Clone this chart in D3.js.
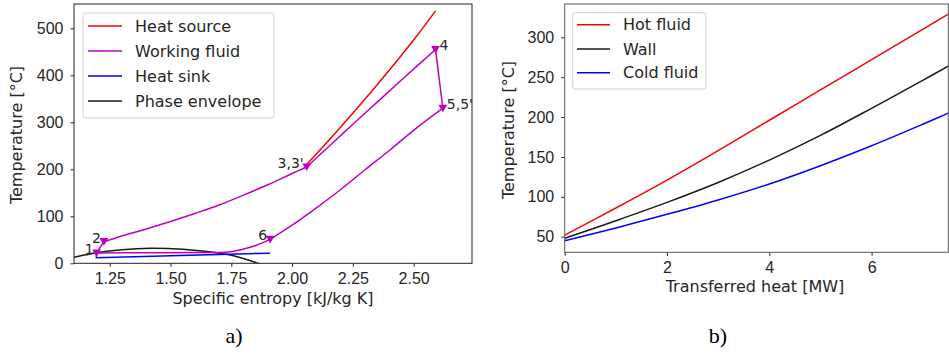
<!DOCTYPE html>
<html>
<head>
<meta charset="utf-8">
<script src="https://cdn.jsdelivr.net/npm/d3@7"></script>
<style>
  body { margin: 0; background: #fff; }
  svg { display: block; font-family: "DejaVu Sans", sans-serif; }
  .axis text { font-size: 16px; fill: #262626; }
  .axis path, .axis line { stroke: #262626; }
</style>
</head>
<body>
<svg id="chart" width="949" height="353"></svg>
<script>
// ---- panel a) T-s diagram ----
const sourceS = [2.06, 2.2, 2.35, 2.5, 2.59];
const sourceT = [210, 290, 380, 475, 537];

// working fluid cycle, one array per process
const wfPumpS = [1.196, 1.226];
const wfPumpT = [22, 46];
const wfHeatS = [1.226, 1.3, 1.4, 1.5, 1.6, 1.7, 1.8, 1.9, 2.0, 2.06];
const wfHeatT = [46, 58, 73, 89, 106, 124, 145, 167, 191, 205];
const wfSuperS = [2.06, 2.15, 2.25, 2.35, 2.45, 2.59];
const wfSuperT = [205, 248, 296, 343, 390, 455];
const wfExpS = [2.59, 2.62];
const wfExpT = [455, 330];
const wfCoolS = [2.62, 2.5, 2.4, 2.3, 2.2, 2.1, 2.0, 1.91];
const wfCoolT = [330, 283, 240, 199, 157, 118, 81, 51];
const wfCondS = [1.91, 1.85, 1.79, 1.74, 1.6, 1.4, 1.196];
const wfCondT = [51, 38, 29, 24, 23, 22.5, 22];

const sinkS = [1.195, 1.195, 1.909];
const sinkT = [17, 12, 21.5];

const envS = [1.103, 1.15, 1.2, 1.3, 1.42, 1.55, 1.65, 1.75, 1.82, 1.86, 1.9];
const envT = [13, 18, 23, 29, 32, 30, 25, 17, 7, 0, -7];

const stateS = [1.196, 1.226, 2.06, 2.59, 2.62, 1.91];
const stateT = [22, 46, 205, 455, 330, 51];
const stateLabels = ["1", "2", "3,3'", "4", "5,5'", "6"];
const stateAnchor = ["end", "end", "end", "start", "start", "end"];

const ticksA_x = [1.25, 1.5, 1.75, 2.0, 2.25, 2.5];
const ticksA_y = [0, 100, 200, 300, 400, 500];
const legendA = ["Heat source", "Working fluid", "Heat sink", "Phase envelope"];

// ---- panel b) heat exchanger profile ----
const heatQ = [0, 1, 2, 3, 4, 5, 6, 7, 7.5];
const hotT = [52, 86, 121, 158, 196, 234, 272, 310, 329];
const wallT = [48, 70, 93, 118, 146, 177, 211, 246, 264];
const coldT = [45, 61, 78, 96, 116, 139, 164, 191, 205];

const ticksB_x = [0, 2, 4, 6];
const ticksB_y = [50, 100, 150, 200, 250, 300];
const legendB = ["Hot fluid", "Wall", "Cold fluid"];

const RED = "#ff0000", MAG = "#bf00bf", BLUE = "#0000ff", BLACK = "#1a1a1a";

const svg = d3.select("#chart");
const zip = (xs, ys) => xs.map((x, i) => [x, ys[i]]);

function panel(id, box, xDom, yDom, xTicks, yTicks, xFmt, frameColor) {
  const x = d3.scaleLinear().domain(xDom).range([box.x0, box.x1]);
  const y = d3.scaleLinear().domain(yDom).range([box.y1, box.y0]);
  svg.append("clipPath").attr("id", id)
    .append("rect")
    .attr("x", box.x0).attr("y", box.y0)
    .attr("width", box.x1 - box.x0).attr("height", box.y1 - box.y0);

  svg.append("g").attr("class", "axis")
    .attr("transform", `translate(0,${box.y1})`)
    .call(d3.axisBottom(x).tickValues(xTicks).tickFormat(xFmt).tickSize(3.5).tickPadding(6))
    .call(g => g.select(".domain").remove());
  svg.append("g").attr("class", "axis")
    .attr("transform", `translate(${box.x0},0)`)
    .call(d3.axisLeft(y).tickValues(yTicks).tickSize(3.5).tickPadding(7))
    .call(g => g.select(".domain").remove());

  const plot = svg.append("g").attr("clip-path", `url(#${id})`);
  const frame = () => svg.append("rect")
    .attr("x", box.x0).attr("y", box.y0)
    .attr("width", box.x1 - box.x0).attr("height", box.y1 - box.y0)
    .attr("fill", "none").attr("stroke", frameColor).attr("stroke-width", 1);
  return { x, y, plot, frame };
}

function drawLine(p, pts, color, curve) {
  p.plot.append("path")
    .datum(pts)
    .attr("d", d3.line().x(d => p.x(d[0])).y(d => p.y(d[1])).curve(curve || d3.curveCatmullRom))
    .attr("fill", "none").attr("stroke", color).attr("stroke-width", 1.5);
}

function legend(box, rows, colors, lx0, lx1, tx, rowY) {
  svg.append("rect")
    .attr("x", box.x).attr("y", box.y).attr("width", box.w).attr("height", box.h)
    .attr("rx", 3).attr("fill", "#fff").attr("fill-opacity", 0.8)
    .attr("stroke", "#d0d0d0");
  rows.forEach((r, i) => {
    const yy = rowY[i];
    svg.append("line").attr("x1", lx0).attr("x2", lx1).attr("y1", yy).attr("y2", yy)
      .attr("stroke", colors[i]).attr("stroke-width", 1.5);
    svg.append("text").attr("x", tx).attr("y", yy).attr("dy", "0.36em")
      .attr("font-size", 16).attr("fill", "#262626").text(r);
  });
}

// ----- panel a -----
const A = panel("clipA", { x0: 74, x1: 472, y0: 4, y1: 263.3 },
  [1.103, 2.74], [0, 551.7], ticksA_x, ticksA_y, d3.format(".2f"), "#222");

drawLine(A, zip(envS, envT), BLACK);
drawLine(A, zip(sinkS, sinkT), BLUE, d3.curveLinear);
drawLine(A, zip(sourceS, sourceT), RED);
[[wfPumpS, wfPumpT], [wfHeatS, wfHeatT], [wfSuperS, wfSuperT], [wfExpS, wfExpT],
 [wfCoolS, wfCoolT], [wfCondS, wfCondT]].forEach(([s, t]) => drawLine(A, zip(s, t), MAG));

const tri = d3.symbol().type(d3.symbolTriangle).size(34);
A.plot.selectAll(".state").data(stateS).join("path")
  .attr("d", tri)
  .attr("transform", (d, i) => `translate(${A.x(d)},${A.y(stateT[i]) - 1}) rotate(180)`)
  .attr("fill", MAG);
svg.selectAll(".slabel").data(stateLabels).join("text")
  .attr("x", (d, i) => A.x(stateS[i]) + (stateAnchor[i] === "end" ? -3 : 4))
  .attr("y", (d, i) => A.y(stateT[i]) + 1)
  .attr("text-anchor", (d, i) => stateAnchor[i])
  .attr("font-size", 14).attr("fill", "#262626")
  .text(d => d);
A.frame();

legend({ x: 83, y: 13, w: 191, h: 105 }, legendA, [RED, MAG, BLUE, BLACK],
  88, 122, 135, [26, 51, 76, 101]);

svg.append("text").attr("x", 273).attr("y", 304).attr("text-anchor", "middle")
  .attr("font-size", 16).attr("fill", "#262626").text("Specific entropy [kJ/kg K]");
svg.append("text").attr("transform", "translate(22,135) rotate(-90)").attr("text-anchor", "middle")
  .attr("font-size", 16).attr("fill", "#262626").text("Temperature [°C]");

// ----- panel b -----
const B = panel("clipB", { x0: 564.7, x1: 948.3, y0: 4, y1: 252.3 },
  [0, 7.5], [30.4, 341.8], ticksB_x, ticksB_y, d3.format("d"), "#555");

drawLine(B, zip(heatQ, hotT), RED);
drawLine(B, zip(heatQ, wallT), BLACK);
drawLine(B, zip(heatQ, coldT), BLUE);
B.frame();

legend({ x: 572.7, y: 12.7, w: 133.3, h: 76.3 }, legendB, [RED, BLACK, BLUE],
  577, 610, 623, [24.7, 49, 72.7]);

svg.append("text").attr("x", 755).attr("y", 292).attr("text-anchor", "middle")
  .attr("font-size", 16).attr("fill", "#262626").text("Transferred heat [MW]");
svg.append("text").attr("transform", "translate(514,130) rotate(-90)").attr("text-anchor", "middle")
  .attr("font-size", 16).attr("fill", "#262626").text("Temperature [°C]");

// ----- captions -----
svg.append("text").attr("x", 234).attr("y", 343).attr("text-anchor", "middle")
  .attr("font-family", "Liberation Serif, serif").attr("font-size", 22).attr("fill", "#000").text("a)");
svg.append("text").attr("x", 718).attr("y", 343).attr("text-anchor", "middle")
  .attr("font-family", "Liberation Serif, serif").attr("font-size", 22).attr("fill", "#000").text("b)");
</script>
</body>
</html>
